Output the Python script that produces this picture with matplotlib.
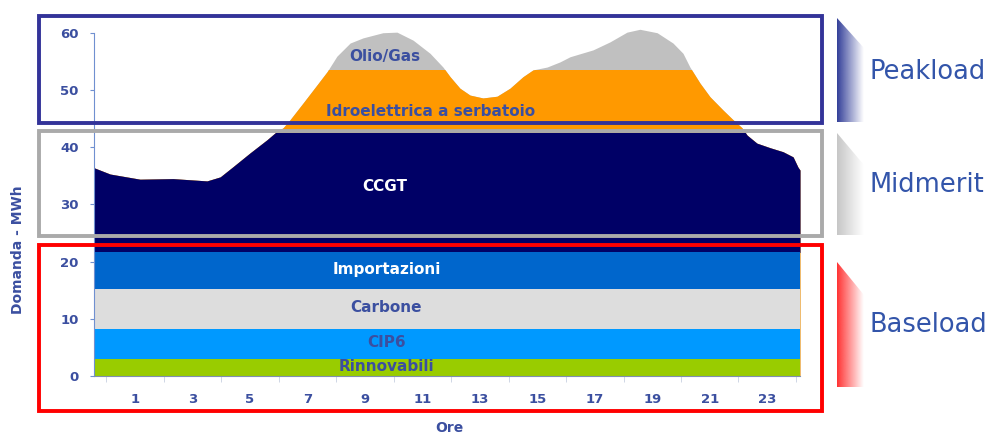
import numpy as np
import matplotlib.pyplot as plt
from matplotlib.patches import Rectangle, Polygon

# ---- data ----
# hourly demand (total load curve), hours on the category axis
hours = [-0.42, 0.14, 1.18, 2.33, 3.51, 3.97, 4.42, 5.01, 5.60, 5.88, 6.16,
         6.40, 6.85, 7.34, 7.69, 8.03, 8.49, 8.94, 9.63, 10.12, 10.68, 11.27,
         11.72, 11.97, 12.31, 12.66, 13.11, 13.60, 14.05, 14.50, 14.85, 15.34,
         15.79, 16.14, 16.94, 17.53, 18.12, 18.57, 19.17, 19.72, 20.07, 20.31,
         20.66, 21.01, 21.46, 21.81, 22.12, 22.30, 22.64, 23.10, 23.55, 23.90,
         24.07, 24.14]
load = [36.4, 35.3, 34.4, 34.5, 34.1, 34.8, 36.6, 39.0, 41.3, 42.5, 43.4,
        44.8, 47.7, 50.9, 53.2, 55.9, 58.2, 59.1, 60.0, 60.1, 58.7, 56.4,
        54.0, 52.3, 50.3, 49.1, 48.6, 48.9, 50.3, 52.3, 53.5, 54.0,
        54.9, 55.8, 57.0, 58.4, 60.1, 60.6, 60.0, 58.2, 56.4, 54.0,
        51.2, 48.8, 46.5, 44.8, 43.4, 42.1, 40.7, 39.9, 39.2, 38.3,
        36.5, 36.0]

# baseload blocks (constant over the day), MWh
base_names = ["Rinnovabili", "CIP6", "Carbone", "Importazioni"]
base_height = [2.9, 5.3, 7.0, 6.4]
base_colors = ["#99CC00", "#0099FF", "#DDDDDD", "#0066CC"]

ccgt_cap = 42.5     # top of CCGT (midmerit)
hydro_cap = 53.4    # top of Idroelettrica a serbatoio

tick_hours = [1, 3, 5, 7, 9, 11, 13, 15, 17, 19, 21, 23]
bands = ["Peakload", "Midmerit", "Baseload"]

TXT = "#3B4FA0"
W, H = 991, 437

fig = plt.figure(figsize=(W / 100, H / 100), dpi=100)
ax = fig.add_axes([94 / W, 61 / H, 706 / W, 349 / H])
x0, x1 = hours[0], hours[-1]
ax.set_xlim(x0, x1)
ax.set_ylim(0, 61)

# stacked layers
ax.fill_between(hours, 0, load, color="#C0C0C0", lw=0)
hydro = ax.fill_between(hours, 0, load, color="#FF9900", lw=0)
hydro.set_clip_path(Rectangle((x0, 0), x1 - x0, hydro_cap, transform=ax.transData))
base_top = sum(base_height)
ccgt = ax.fill_between(hours, base_top, load, color="#000066", lw=0)
ccgt.set_clip_path(Rectangle((x0, 0), x1 - x0, ccgt_cap, transform=ax.transData))
bottom = 0
for name, h, c in zip(base_names, base_height, base_colors):
    ax.fill_between([x0, x1], bottom, bottom + h, color=c, lw=0)
    bottom += h

# labels inside the chart
lab = dict(ha="center", va="center", fontsize=11, fontweight="bold")
ax.text(9.7, 55.8, "Olio/Gas", color=TXT, **lab)
ax.text(11.3, 46.3, "Idroelettrica a serbatoio", color=TXT, **lab)
ax.text(9.7, 33.2, "CCGT", color="white", **lab)
ax.text(9.75, 18.6, "Importazioni", color="white", **lab)
ax.text(9.75, 11.9, "Carbone", color=TXT, **lab)
ax.text(9.75, 5.8, "CIP6", color=TXT, **lab)
ax.text(9.75, 1.7, "Rinnovabili", color=TXT, **lab)

# axes styling
for s in ["top", "right"]:
    ax.spines[s].set_visible(False)
ax.spines["left"].set_bounds(0, 60)
ax.spines["left"].set_color("#7090D0")
ax.spines["bottom"].set_color("#8090B0")
ax.set_yticks(range(0, 61, 10))
ax.set_xticks(tick_hours)
ax.set_xticks(range(0, 25), minor=True)
ax.tick_params(axis="y", colors="#7090D0", labelcolor=TXT, length=3, labelsize=9.5, pad=8)
ax.tick_params(axis="x", which="major", length=0, labelcolor=TXT, labelsize=9.5, pad=12)
ax.tick_params(axis="x", which="minor", length=4, color="#C8D0E0")
for t in ax.get_xticklabels() + ax.get_yticklabels():
    t.set_fontweight("bold")
fig.text(449 / W, 1 - 428 / H, "Ore", color=TXT, fontsize=10, fontweight="bold",
         ha="center", va="center")
fig.text(18 / W, 1 - 250 / H, "Domanda - MWh", rotation=90, color=TXT,
         fontsize=10, fontweight="bold", ha="center", va="center")

# overlay for frames and side markers (pixel coordinates)
ov = fig.add_axes([0, 0, 1, 1], facecolor="none")
ov.set_xlim(0, W)
ov.set_ylim(H, 0)
ov.axis("off")
ov.add_patch(Rectangle((39, 16), 783, 107, fill=False, ec="#333399", lw=2.8))
ov.add_patch(Rectangle((39, 131), 783, 105, fill=False, ec="#AAAAAA", lw=2.8))
ov.add_patch(Rectangle((39, 245), 783, 166, fill=False, ec="#FF0000", lw=2.8))

shapes = [(18, 48, 122, (0.2, 0.25, 0.6), 72),
          (133, 165, 235, (0.78, 0.78, 0.78), 185),
          (262, 295, 387, (1.0, 0.2, 0.2), 325)]
for name, (top, mid, bot, rgb, ty) in zip(bands, shapes):
    grad = np.zeros((1, 64, 4))
    grad[..., :3] = rgb
    grad[..., 3] = np.linspace(1, 0, 64)
    im = ov.imshow(grad, extent=(837, 864, bot, top), aspect="auto")
    im.set_clip_path(Polygon([(837, top), (864, mid), (864, bot), (837, bot)],
                             closed=True, transform=ov.transData))
    ov.text(869, ty, name, color="#3355AA", fontsize=18.5, va="center", ha="left")
ov.set_xlim(0, W)
ov.set_ylim(H, 0)

fig.savefig("out.png", dpi=100)
